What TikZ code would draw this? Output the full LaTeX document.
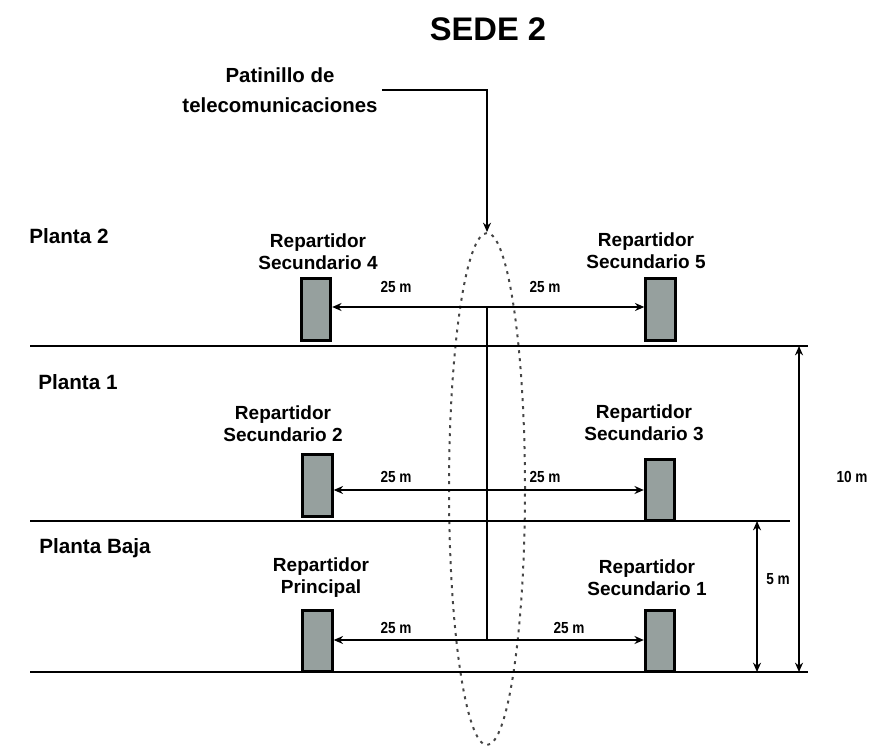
\documentclass[tikz,border=0pt]{standalone}
\usepackage{fontspec}
\setmainfont{Liberation Sans}
\usetikzlibrary{arrows.meta,shapes.geometric}
\definecolor{boxgray}{RGB}{150,160,158}
\definecolor{dotgray}{RGB}{70,70,70}
\begin{document}
\begin{tikzpicture}[x=0.75pt,y=-0.75pt,
  reptext/.style={font=\bfseries\fontsize{14.25}{16.5}\selectfont, align=center, inner sep=0pt},
  floortext/.style={font=\bfseries\fontsize{15.5}{18}\selectfont, anchor=west, inner sep=0pt},
  dimtext/.style={font=\bfseries\fontsize{12}{14}\selectfont, inner sep=0pt},
  rack/.style={draw=black, line width=2.3pt, fill=boxgray, minimum width=22pt, minimum height=46pt, inner sep=0pt},
  floorline/.style={line width=1.4pt},
  dimarrow/.style={line width=1.2pt, {Stealth[length=7pt,width=6pt]}-{Stealth[length=7pt,width=6pt]}},
  pointer/.style={line width=1.1pt, -{Stealth[length=7pt,width=6pt]}},
  shaft/.style={draw=dotgray, line width=1.5pt, dash pattern=on 2.2pt off 3.8pt, ellipse, minimum width=57pt, minimum height=384pt, inner sep=0pt}
]
\useasboundingbox (0,0) rectangle (874,749);

% title
\node[font=\bfseries\fontsize{24.5}{28}\selectfont, inner sep=0pt] (title) at (488,29) {SEDE 2};

% shaft label and ellipse
\node[font=\bfseries\fontsize{15.3}{22.5}\selectfont, align=center, inner sep=3pt] (pat) at (280,90) {Patinillo de\\telecomunicaciones};
\node[shaft] (ell) at (487,489) {};
\draw[pointer] (pat.east) -| (ell.north);

% floor lines
\coordinate (f2L) at (30,346);  \coordinate (f2R) at (808,346);
\coordinate (f1L) at (30,521);  \coordinate (f1R) at (790,521);
\coordinate (f0L) at (30,672);  \coordinate (f0R) at (808,672);
\draw[floorline] (f2L) -- (f2R);
\draw[floorline] (f1L) -- (f1R);
\draw[floorline] (f0L) -- (f0R);

% floor labels
\node[floortext] (p2) at (29,236) {Planta 2};
\node[floortext] (p1) at (38,382) {Planta 1};
\node[floortext] (pb) at (39,548) {Planta Baja};

% racks
\node[rack] (r4) at (316,309.5) {};
\node[rack] (r5) at (660.5,309.5) {};
\node[rack] (r2) at (317.5,485.5) {};
\node[rack] (r3) at (660,490) {};
\node[rack] (rp) at (317.5,641) {};
\node[rack] (r1) at (660,641) {};

% rack labels
\node[reptext] (t4) at (318,251.5) {Repartidor\\Secundario 4};
\node[reptext] (t5) at (646,250.5) {Repartidor\\Secundario 5};
\node[reptext] (t2) at (283,424) {Repartidor\\Secundario 2};
\node[reptext] (t3) at (644,423) {Repartidor\\Secundario 3};
\node[reptext] (tp) at (321,577.5) {Repartidor\\Principal};
\node[reptext] (t1) at (647,577.5) {Repartidor\\Secundario 1};

% horizontal distances
\coordinate (c2) at (487,307);
\coordinate (c1) at (487,490);
\coordinate (c0) at (487,640);
\draw[line width=1.2pt] (c2) -- (c0);
\draw[dimarrow] (r4.east |- c2) -- (r5.west |- c2);
\draw[dimarrow] (r2.east |- c1) -- (r3.west |- c1);
\draw[dimarrow] (rp.east |- c0) -- (r1.west |- c0);

\node[dimtext] (d2a) at (396,287) {\scalebox{0.85}[1]{25 m}};
\node[dimtext] (d2b) at (545,287) {\scalebox{0.85}[1]{25 m}};
\node[dimtext] (d1a) at (396,477) {\scalebox{0.85}[1]{25 m}};
\node[dimtext] (d1b) at (545,477) {\scalebox{0.85}[1]{25 m}};
\node[dimtext] (d0a) at (396,628) {\scalebox{0.85}[1]{25 m}};
\node[dimtext] (d0b) at (569,628) {\scalebox{0.85}[1]{25 m}};

% vertical distances
\coordinate (v10t) at (799,346);
\coordinate (v10b) at (799,672);
\coordinate (v5t) at (757,521);
\coordinate (v5b) at (757,672);
\draw[dimarrow] (v10t) -- (v10b);
\draw[dimarrow] (v5t) -- (v5b);
\node[dimtext] (h10) at (852,477) {\scalebox{0.85}[1]{10 m}};
\node[dimtext] (h5) at (778,579) {\scalebox{0.85}[1]{5 m}};
\end{tikzpicture}
\end{document}
